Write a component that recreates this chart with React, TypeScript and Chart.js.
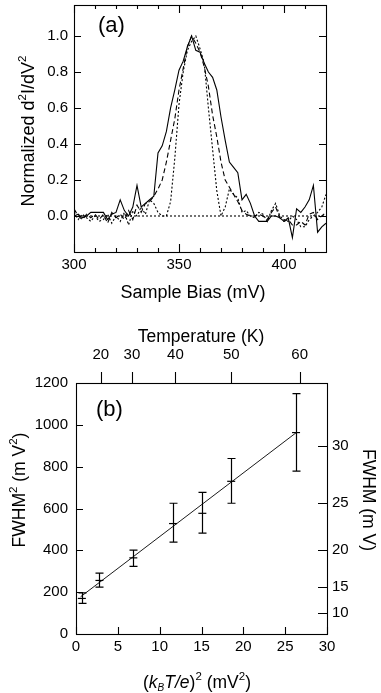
import React, { useEffect, useRef } from "react";
import { Chart, registerables } from "chart.js";

Chart.register(...registerables);

const FONT = '"Liberation Sans", Arial, Helvetica, sans-serif';

// ---------------- panel (a) data ----------------
const biasMv = [
  300, 302, 304, 306, 308, 310, 312, 314, 316, 318,
  320, 322, 324, 326, 328, 330, 332, 334, 336, 338,
  340, 342, 344, 346, 348, 350, 352, 354, 356, 358,
  360, 362, 364, 366, 368, 370, 372, 374, 376, 378,
  380, 382, 384, 386, 388, 390, 392, 394, 396, 398,
  400, 402, 404, 406, 408, 410, 412, 414, 416, 418,
  420,
];
const curveSolid = [
  0.0, 0.01, -0.01, 0.0, 0.02, 0.02, 0.02, 0.02, -0.02, 0.01,
  0.02, 0.09, 0.03, 0.0, 0.05, 0.17, 0.05, 0.07, 0.09, 0.11,
  0.35, 0.39, 0.47, 0.6, 0.7, 0.81, 0.86, 0.94, 1.0, 0.92,
  0.91, 0.85, 0.8, 0.77, 0.7, 0.55, 0.42, 0.3, 0.27, 0.24,
  0.09, 0.12, 0.07, 0.0, -0.03, -0.03, -0.03, 0.0, 0.0, -0.01,
  -0.03, -0.01, -0.12, 0.04, 0.02, 0.05, 0.09, 0.17, -0.09, -0.06,
  -0.04,
];
const curveDashed = [
  0.04, 0.0, -0.02, 0.01, -0.01, 0.01, -0.02, 0.01, -0.04, 0.02,
  -0.01, 0.01, -0.02, 0.03, -0.02, 0.06, 0.02, 0.07, 0.08, 0.11,
  0.15, 0.2, 0.3, 0.42, 0.54, 0.7, 0.82, 0.94, 1.0, 0.96,
  0.91, 0.83, 0.72, 0.56, 0.44, 0.3, 0.2, 0.16, 0.12, 0.08,
  0.03, 0.01, 0.0, 0.0, 0.01, 0.0, -0.02, 0.02, 0.05, -0.01,
  -0.03, -0.02, -0.05, -0.05, -0.03, -0.05, 0.01, 0.02, -0.02, 0.0,
  0.02,
];
const curveDotted = [
  0.02, -0.02, 0.01, -0.01, -0.03, 0.0, -0.03, -0.02, 0.01, -0.04,
  0.0, -0.03, 0.02, -0.05, 0.03, 0.0, 0.05, 0.01, 0.09, 0.07,
  0.02, 0.0, 0.0, 0.08, 0.32, 0.62, 0.8, 0.92, 0.97, 1.0,
  0.93, 0.85, 0.6, 0.37, 0.14, 0.0, 0.05, 0.15, 0.12, 0.1,
  0.02, 0.03, 0.0, -0.01, 0.02, 0.01, -0.03, 0.03, 0.07, 0.0,
  -0.02, -0.03, 0.0, -0.02, -0.06, -0.06, -0.02, 0.0, 0.02, 0.05,
  0.12,
];
const zeroLineBias = [300, 420];
const zeroLineValue = [0, 0];
const biasLabelTicks = [300, 350, 400];
const biasMinorTicks = [310, 320, 330, 340, 360, 370, 380, 390, 410];
const normTicks = [0, 0.2, 0.4, 0.6, 0.8, 1.0];

// ---------------- panel (b) data ----------------
const kTe2 = [0.7, 2.8, 6.85, 11.6, 15.1, 18.55, 26.3];
const fwhm2 = [170, 256, 364, 528, 577, 730, 963];
const fwhm2Upper = [197, 291, 401, 625, 677, 839, 1149];
const fwhm2Lower = [146, 224, 323, 439, 482, 625, 779];
const fitKTe2 = [0.55, 26.4];
const fitFwhm2 = [178, 965];
const kTe2Ticks = [0, 5, 10, 15, 20, 25, 30];
const fwhm2Ticks = [0, 200, 400, 600, 800, 1000, 1200];
const fwhmTicks = [10, 15, 20, 25, 30];
const temperatureTicks = [20, 30, 40, 50, 60];
const KB_MV_PER_K = 0.08617;

// ---------------- helpers ----------------
type Part = { t: string; size: number; italic?: boolean; dy?: number };
type TickSpec = {
  scaleId: string;
  side: "top" | "bottom" | "left" | "right";
  values: number[];
  len: number; // positive = inward, negative = outward
};
type RichLabel = { parts: Part[]; x: number; y: number; rot: number; align?: "center" | "left" };

const fontOf = (p: Part) => `${p.italic ? "italic " : ""}${p.size}px ${FONT}`;

function drawRich(ctx: CanvasRenderingContext2D, lab: RichLabel) {
  ctx.save();
  ctx.translate(lab.x, lab.y);
  ctx.rotate(lab.rot);
  ctx.fillStyle = "#000";
  ctx.textBaseline = "alphabetic";
  ctx.textAlign = "left";
  let w = 0;
  for (const p of lab.parts) {
    ctx.font = fontOf(p);
    w += ctx.measureText(p.t).width;
  }
  let x = lab.align === "left" ? 0 : -w / 2;
  for (const p of lab.parts) {
    ctx.font = fontOf(p);
    ctx.fillText(p.t, x, p.dy || 0);
    x += ctx.measureText(p.t).width;
  }
  ctx.restore();
}

const fixScale = (size: number) => (s: any) => {
  if (s.isHorizontal()) s.height = size;
  else s.width = size;
  s.paddingLeft = 0;
  s.paddingRight = 0;
  s.paddingTop = 0;
  s.paddingBottom = 0;
};

const setTicks = (vals: number[]) => (s: any) => {
  s.ticks = vals.map((value) => ({ value }));
};

const tickFont = { family: FONT, size: 15 };

function framePlugin(
  specs: TickSpec[],
  labels: RichLabel[],
  extra?: (chart: any) => void
) {
  return {
    id: "frameAndTicks",
    afterDatasetsDraw(chart: any) {
      const ctx: CanvasRenderingContext2D = chart.ctx;
      const a = chart.chartArea;
      ctx.save();
      if (extra) extra(chart);
      ctx.strokeStyle = "#000";
      ctx.lineWidth = 1.1;
      ctx.setLineDash([]);
      ctx.strokeRect(a.left + 0.5, a.top + 0.5, a.right - a.left, a.bottom - a.top);
      ctx.beginPath();
      for (const sp of specs) {
        const s = chart.scales[sp.scaleId];
        for (const v of sp.values) {
          const p = Math.round(s.getPixelForValue(v)) + 0.5;
          if (sp.side === "bottom") {
            ctx.moveTo(p, a.bottom);
            ctx.lineTo(p, a.bottom - sp.len);
          } else if (sp.side === "top") {
            ctx.moveTo(p, a.top);
            ctx.lineTo(p, a.top + sp.len);
          } else if (sp.side === "left") {
            ctx.moveTo(a.left, p);
            ctx.lineTo(a.left + sp.len, p);
          } else {
            ctx.moveTo(a.right, p);
            ctx.lineTo(a.right - sp.len, p);
          }
        }
      }
      ctx.stroke();
      ctx.restore();
      for (const lab of labels) drawRich(ctx, lab);
    },
  };
}

const TITLE = 18;
const SUP = 11.5;

export default function App() {
  const refA = useRef<HTMLCanvasElement | null>(null);
  const refB = useRef<HTMLCanvasElement | null>(null);

  useEffect(() => {
    if (!refA.current || !refB.current) return;

    const line = (xs: number[], ys: number[], dash: number[]) => ({
      data: xs.map((x, i) => ({ x, y: ys[i] })),
      borderColor: "#000",
      borderWidth: 1.1,
      borderDash: dash,
      pointRadius: 0,
      fill: false,
      tension: 0,
    });

    const chartA = new Chart(refA.current, {
      type: "line",
      data: {
        datasets: [
          line(biasMv, curveSolid, []),
          line(biasMv, curveDashed, [5, 3]),
          line(biasMv, curveDotted, [2, 2]),
          line(zeroLineBias, zeroLineValue, [2, 2]),
        ] as any,
      },
      options: {
        responsive: false,
        animation: false,
        devicePixelRatio: 1,
        layout: { padding: { top: 5, right: 55, left: 0, bottom: 0 } },
        plugins: { legend: { display: false }, tooltip: { enabled: false } },
        scales: {
          x: {
            type: "linear",
            position: "bottom",
            min: 300,
            max: 420,
            afterBuildTicks: setTicks(biasLabelTicks),
            grid: { display: false, drawTicks: false },
            border: { display: false },
            ticks: { color: "#000", font: tickFont, padding: 4, autoSkip: false, maxRotation: 0, callback: (v: any) => String(v) },
            afterFit: fixScale(58),
          },
          y: {
            type: "linear",
            position: "left",
            min: -0.2,
            max: 1.172,
            afterBuildTicks: setTicks(normTicks),
            grid: { display: false, drawTicks: false },
            border: { display: false },
            ticks: { color: "#000", font: tickFont, padding: 6, autoSkip: false, callback: (v: any) => Number(v).toFixed(1) },
            afterFit: fixScale(74),
          },
        },
      } as any,
      plugins: [
        framePlugin(
          [
            { scaleId: "x", side: "bottom", values: biasLabelTicks, len: 8 },
            { scaleId: "x", side: "bottom", values: biasMinorTicks, len: 4 },
            { scaleId: "x", side: "top", values: biasLabelTicks, len: 8 },
            { scaleId: "x", side: "top", values: biasMinorTicks, len: 4 },
            { scaleId: "y", side: "left", values: normTicks, len: 7 },
            { scaleId: "y", side: "right", values: normTicks, len: 7 },
          ],
          [
            { parts: [{ t: "(a)", size: 22 }], x: 98, y: 32, rot: 0, align: "left" },
            { parts: [{ t: "Sample Bias (mV)", size: TITLE }], x: 193, y: 298, rot: 0 },
            {
              parts: [
                { t: "Normalized d", size: TITLE },
                { t: "2", size: SUP, dy: -8 },
                { t: "I/dV", size: TITLE },
                { t: "2", size: SUP, dy: -8 },
              ],
              x: 34,
              y: 131,
              rot: -Math.PI / 2,
            },
          ]
        ),
      ],
    });

    const kToX = (T: number) => (KB_MV_PER_K * T) ** 2;

    const chartB = new Chart(refB.current, {
      type: "line",
      data: {
        datasets: [
          {
            data: fitKTe2.map((x, i) => ({ x, y: fitFwhm2[i] })),
            borderColor: "#000",
            borderWidth: 0.9,
            pointRadius: 0,
            fill: false,
            xAxisID: "x",
            yAxisID: "y",
          },
          {
            data: kTe2.map((x, i) => ({ x, y: fwhm2[i] })),
            borderColor: "#000",
            backgroundColor: "#000",
            showLine: false,
            pointStyle: "line",
            pointRadius: 4,
            pointBorderWidth: 1.2,
            xAxisID: "x",
            yAxisID: "y",
          },
        ] as any,
      },
      options: {
        responsive: false,
        animation: false,
        devicePixelRatio: 1,
        layout: { padding: 0 },
        plugins: { legend: { display: false }, tooltip: { enabled: false } },
        scales: {
          x: {
            type: "linear",
            position: "bottom",
            min: 0,
            max: 30,
            afterBuildTicks: setTicks(kTe2Ticks),
            grid: { display: false, drawTicks: false },
            border: { display: false },
            ticks: { color: "#000", font: tickFont, padding: 4, autoSkip: false, maxRotation: 0, callback: (v: any) => String(v) },
            afterFit: fixScale(59),
          },
          xT: {
            type: "linear",
            position: "top",
            min: 0,
            max: 30,
            afterBuildTicks: setTicks(temperatureTicks.map(kToX)),
            grid: { display: false, drawTicks: false },
            border: { display: false },
            ticks: {
              color: "#000",
              font: tickFont,
              padding: 19,
              autoSkip: false,
              maxRotation: 0,
              callback: (_v: any, i: number) => String(temperatureTicks[i]),
            },
            afterFit: fixScale(73),
          },
          y: {
            type: "linear",
            position: "left",
            min: 0,
            max: 1200,
            afterBuildTicks: setTicks(fwhm2Ticks),
            grid: { display: false, drawTicks: false },
            border: { display: false },
            ticks: { color: "#000", font: tickFont, padding: 8, autoSkip: false, callback: (v: any) => String(v) },
            afterFit: fixScale(76),
          },
          yR: {
            type: "linear",
            position: "right",
            min: 0,
            max: 1200,
            afterBuildTicks: setTicks(fwhmTicks.map((f) => f * f)),
            grid: { display: false, drawTicks: false },
            border: { display: false },
            ticks: {
              color: "#000",
              font: tickFont,
              padding: 5,
              autoSkip: false,
              callback: (_v: any, i: number) => String(fwhmTicks[i]),
            },
            afterFit: fixScale(54),
          },
        },
      } as any,
      plugins: [
        framePlugin(
          [
            { scaleId: "x", side: "bottom", values: kTe2Ticks, len: 7 },
            { scaleId: "xT", side: "top", values: temperatureTicks.map(kToX), len: -11 },
            { scaleId: "y", side: "left", values: fwhm2Ticks, len: 7 },
            { scaleId: "yR", side: "right", values: fwhmTicks.map((f) => f * f), len: 9 },
          ],
          [
            { parts: [{ t: "(b)", size: 22 }], x: 96, y: 105.5, rot: 0, align: "left" },
            { parts: [{ t: "Temperature (K)", size: 17.5 }], x: 201, y: 32, rot: 0 },
            {
              parts: [
                { t: "(", size: 17.5 },
                { t: "k", size: 17.5, italic: true },
                { t: "B", size: 10, italic: true, dy: 3 },
                { t: "T/e", size: 17.5, italic: true },
                { t: ")", size: 17.5 },
                { t: "2", size: SUP, dy: -8 },
                { t: " (mV", size: 17.5 },
                { t: "2", size: SUP, dy: -8 },
                { t: ")", size: 17.5 },
              ],
              x: 197,
              y: 378,
              rot: 0,
            },
            {
              parts: [
                { t: "FWHM", size: 17.5 },
                { t: "2", size: SUP, dy: -8 },
                { t: " (m V", size: 17.5 },
                { t: "2", size: SUP, dy: -8 },
                { t: ")", size: 17.5 },
              ],
              x: 25,
              y: 180,
              rot: -Math.PI / 2,
            },
            {
              parts: [{ t: "FWHM (m V)", size: 17.5 }],
              x: 363,
              y: 190,
              rot: Math.PI / 2,
            },
          ],
          (chart: any) => {
            const ctx: CanvasRenderingContext2D = chart.ctx;
            const xs = chart.scales.x;
            const ys = chart.scales.y;
            ctx.strokeStyle = "#000";
            ctx.lineWidth = 1.2;
            ctx.setLineDash([]);
            ctx.beginPath();
            for (let i = 0; i < kTe2.length; i++) {
              const px = Math.round(xs.getPixelForValue(kTe2[i])) + 0.5;
              const yTop = ys.getPixelForValue(fwhm2Upper[i]);
              const yBot = ys.getPixelForValue(fwhm2Lower[i]);
              ctx.moveTo(px, yTop);
              ctx.lineTo(px, yBot);
              ctx.moveTo(px - 4, yTop);
              ctx.lineTo(px + 4, yTop);
              ctx.moveTo(px - 4, yBot);
              ctx.lineTo(px + 4, yBot);
            }
            ctx.stroke();
          }
        ),
      ],
    });

    return () => {
      chartA.destroy();
      chartB.destroy();
    };
  }, []);

  return (
    <div style={{ position: "absolute", left: 0, top: 0, width: 381, height: 693, background: "#fff" }}>
      <canvas
        ref={refA}
        width={381}
        height={310}
        style={{ position: "absolute", left: 0, top: 0, width: 381, height: 310, display: "block" }}
      />
      <canvas
        ref={refB}
        width={381}
        height={383}
        style={{ position: "absolute", left: 0, top: 310, width: 381, height: 383, display: "block" }}
      />
    </div>
  );
}
